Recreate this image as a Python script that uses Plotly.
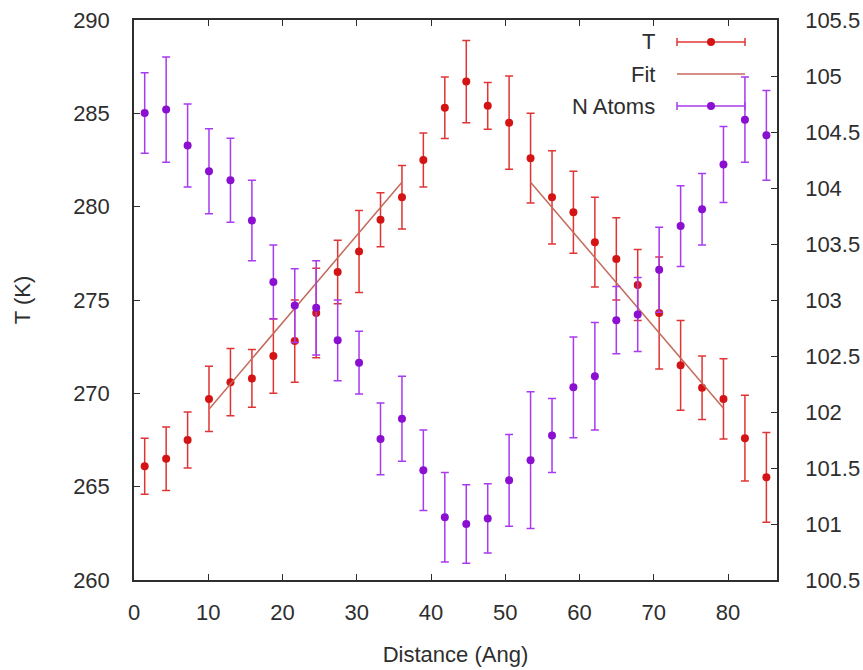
import plotly.graph_objects as go

# Bin centres along the box (Angstrom)
distance = [1.44, 4.33, 7.22, 10.10, 12.99, 15.88, 18.77, 21.65, 24.54, 27.43,
            30.31, 33.20, 36.09, 38.97, 41.86, 44.75, 47.64, 50.52, 53.41, 56.30,
            59.18, 62.07, 64.96, 67.84, 70.73, 73.62, 76.51, 79.39, 82.28, 85.17]

# Temperature profile (K) and its standard error
temp = [266.1, 266.5, 267.5, 269.7, 270.6, 270.8, 272.0, 272.8, 274.3, 276.5,
        277.6, 279.3, 280.5, 282.5, 285.3, 286.7, 285.4, 284.5, 282.6, 280.5,
        279.7, 278.1, 277.2, 275.8, 274.3, 271.5, 270.3, 269.7, 267.6, 265.5]
temp_err = [1.5, 1.7, 1.5, 1.75, 1.8, 1.55, 2.0, 2.2, 2.4, 1.7,
            2.2, 1.45, 1.7, 1.45, 1.65, 2.2, 1.25, 2.5, 2.4, 2.5,
            2.2, 2.4, 2.2, 1.9, 3.0, 2.4, 1.7, 2.15, 2.3, 2.4]

# Atoms per bin and its standard error
n_atoms = [104.67, 104.70, 104.38, 104.15, 104.07, 103.71, 103.16, 102.95, 102.93, 102.64,
           102.44, 101.76, 101.94, 101.48, 101.06, 101.00, 101.05, 101.39, 101.57, 101.79,
           102.22, 102.32, 102.82, 102.87, 103.27, 103.66, 103.81, 104.21, 104.61, 104.47]
n_err = [0.36, 0.47, 0.37, 0.38, 0.375, 0.36, 0.33, 0.33, 0.42, 0.36,
         0.28, 0.32, 0.38, 0.36, 0.40, 0.35, 0.31, 0.41, 0.61, 0.33,
         0.45, 0.48, 0.30, 0.33, 0.38, 0.36, 0.32, 0.34, 0.38, 0.40]

# Linear fits on the two gradient regions (end points)
fit_left_x = [10.10, 36.09]
fit_left_t = [269.15, 281.31]
fit_right_x = [53.41, 79.39]
fit_right_t = [281.31, 269.20]

RED = "#d41414"
RED_BAR = "#e03434"
FIT = "#c46a5a"
PURPLE = "#8a0fd0"
PURPLE_BAR = "#a83af0"
INK = "#2e2e2e"
FONT = "Liberation Sans, Arial, sans-serif"
FS = 22

fig = go.Figure()

fig.add_trace(go.Scatter(
    x=distance, y=temp, mode="markers", name="T",
    marker=dict(color=RED, size=8, symbol="circle"),
    error_y=dict(type="data", array=temp_err, visible=True,
                 color=RED_BAR, thickness=1.5, width=4),
    showlegend=False,
))
for fx, ft in ((fit_left_x, fit_left_t), (fit_right_x, fit_right_t)):
    fig.add_trace(go.Scatter(
        x=fx, y=ft, mode="lines", name="Fit",
        line=dict(color=FIT, width=1.5), showlegend=False,
    ))
fig.add_trace(go.Scatter(
    x=distance, y=n_atoms, mode="markers", name="N Atoms", yaxis="y2",
    marker=dict(color=PURPLE, size=8, symbol="circle"),
    error_y=dict(type="data", array=n_err, visible=True,
                 color=PURPLE_BAR, thickness=1.5, width=4),
    showlegend=False,
))

# Key in the upper right corner: labels right-aligned, samples to their right
L, R, T, B = 134, 777, 20, 580
def px(x):
    return (x - L) / (R - L)
def py(y):
    return (B - y) / (B - T)

shapes = []
annotations = []
key_rows = [("T", 42, RED_BAR, RED, True),
            ("Fit", 74, FIT, None, False),
            ("N Atoms", 106, PURPLE_BAR, PURPLE, True)]
x0, x1, xm = 677, 745, 711
for label, yy, lc, mc, caps in key_rows:
    annotations.append(dict(
        xref="paper", yref="paper", x=px(657), y=py(yy), text=label,
        showarrow=False, xanchor="right", yanchor="middle",
        font=dict(family=FONT, size=FS, color=INK),
    ))
    shapes.append(dict(type="line", xref="paper", yref="paper",
                       x0=px(x0), x1=px(x1), y0=py(yy), y1=py(yy),
                       line=dict(color=lc, width=1.5)))
    if caps:
        for xc in (x0, x1):
            shapes.append(dict(type="line", xref="paper", yref="paper",
                               x0=px(xc), x1=px(xc), y0=py(yy - 4), y1=py(yy + 4),
                               line=dict(color=lc, width=1.5)))
        shapes.append(dict(type="circle", xref="paper", yref="paper",
                           xsizemode="pixel", ysizemode="pixel",
                           xanchor=px(xm), yanchor=py(yy),
                           x0=-4, x1=4, y0=-4, y1=4,
                           fillcolor=mc, line=dict(color=mc, width=0)))

axis_common = dict(
    showline=True, linecolor=INK, linewidth=1.5,
    ticks="inside", ticklen=6, tickwidth=1, tickcolor=INK,
    showgrid=False, zeroline=False, automargin=False,
    tickfont=dict(family=FONT, size=FS, color=INK),
)

fig.update_layout(
    width=863, height=670,
    margin=dict(l=L, r=863 - R, t=T, b=670 - B),
    paper_bgcolor="white", plot_bgcolor="white",
    font=dict(family=FONT, color=INK),
    xaxis=dict(range=[0, 86.6], dtick=10, tick0=0, mirror="ticks",
               ticklabelstandoff=12,
               title=dict(text="Distance (Ang)", font=dict(family=FONT, size=FS, color=INK),
                          standoff=22),
               **axis_common),
    yaxis=dict(range=[260, 290], dtick=5, tick0=260, ticklabelstandoff=18,
               title=dict(text="T (K)", font=dict(family=FONT, size=FS, color=INK),
                          standoff=36),
               **axis_common),
    yaxis2=dict(range=[100.5, 105.5], dtick=0.5, tick0=100.5, overlaying="y",
                side="right", ticklabelstandoff=22, **axis_common),
    shapes=shapes,
    annotations=annotations,
)

fig.write_html("out.html")
